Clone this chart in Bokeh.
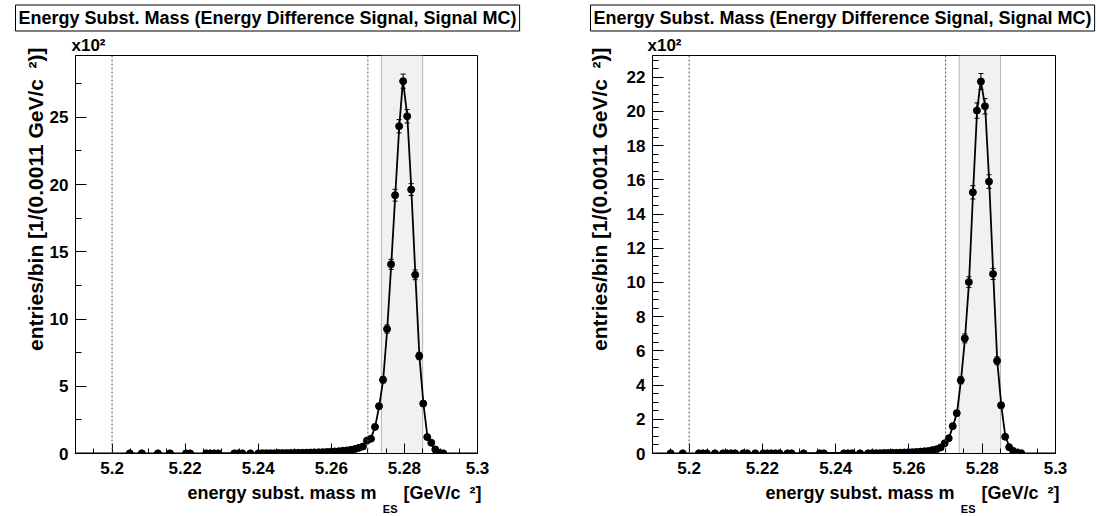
import numpy as np
from bokeh.plotting import figure
from bokeh.layouts import row
from bokeh.models import FixedTicker, BoxAnnotation, Span, Title
from bokeh.embed import file_html
from bokeh.resources import INLINE

FONT = "Liberation Sans"

# ---------------- texts ----------------
title_text = "Energy Subst. Mass (Energy Difference Signal, Signal MC)"
x_title_text = "energy subst. mass m\u2002\u2002\u2002[GeV/c\u2002²]"
x_title_sub = "ES"
y_title_text = "entries/bin [1/(0.0011 GeV/c\u2002²)]"
scale_text = "x10²"

# ---------------- axes ----------------
x_limits = (5.19, 5.30)
x_ticks = [5.2, 5.22, 5.24, 5.26, 5.28, 5.3]
x_tick_labels = ["5.2", "5.22", "5.24", "5.26", "5.28", "5.3"]
region_lines = [5.20, 5.27]
signal_band = [5.2737, 5.2850]

# ---------------- left panel ----------------
left_mass = [5.20485, 5.20815, 5.21255, 5.21585, 5.22025, 5.22135, 5.22575, 5.22685,
             5.22795, 5.22905, 5.23345, 5.23455, 5.23565, 5.23785, 5.24005, 5.24115,
             5.24225, 5.24335, 5.24445, 5.24555, 5.24665, 5.24775, 5.24885, 5.24995,
             5.25105, 5.25215, 5.25325, 5.25435, 5.25545, 5.25655, 5.25765, 5.25875,
             5.25985, 5.26095, 5.26205, 5.26315, 5.26425, 5.26535, 5.26645, 5.26755,
             5.26865, 5.26975, 5.27085, 5.27195, 5.27305, 5.27415, 5.27525, 5.27635,
             5.27745, 5.27855, 5.27965, 5.28075, 5.28185, 5.28295, 5.28405, 5.28515,
             5.28625, 5.28735, 5.28845, 5.28955, 5.29065]
left_entries = [1, 1, 1, 1, 1, 1, 1, 1,
                1, 1, 1, 1, 1, 1, 1, 2,
                2, 2, 2, 3, 3, 3, 4, 4,
                5, 5, 6, 7, 8, 9, 10, 11,
                13, 15, 17, 20, 23, 27, 33, 42,
                52, 96, 110, 198, 352, 548, 926, 1407,
                1921, 2434, 2769, 2508, 1963, 1329, 725, 371,
                122, 80, 30, 5, 1]
left_fit_mass = [5.190, 5.200, 5.210, 5.220, 5.230, 5.240, 5.245, 5.250, 5.255, 5.260,
                 5.263, 5.266, 5.2680, 5.2697, 5.2709, 5.2720, 5.2731, 5.2742, 5.2753,
                 5.2764, 5.2775, 5.2786, 5.2796, 5.2808, 5.2819, 5.2830, 5.2841, 5.2852,
                 5.2863, 5.2874, 5.2885, 5.2896, 5.2910, 5.2950, 5.3000]
left_fit_entries = [0, 0.5, 1, 1.5, 2, 3, 4, 6, 9, 14,
                    19, 27, 40, 85, 118, 200, 352, 550, 926,
                    1407, 1921, 2434, 2775, 2508, 1963, 1329, 725, 371,
                    125, 70, 25, 5, 0, 0, 0]
left_y_max = 2960
left_y_ticks = [0, 500, 1000, 1500, 2000, 2500]
left_y_tick_labels = ["0", "5", "10", "15", "20", "25"]
left_y_minor_step = 250

# ---------------- right panel ----------------
right_mass = [5.19495, 5.19825, 5.20265, 5.20375, 5.20485, 5.20705, 5.20925, 5.21035,
              5.21145, 5.21255, 5.21475, 5.21585, 5.21805, 5.22025, 5.22135, 5.22245,
              5.22355, 5.22465, 5.22685, 5.22795, 5.23125, 5.23565, 5.23675, 5.24225,
              5.24335, 5.24445, 5.24665, 5.24885, 5.24995, 5.25105, 5.25215, 5.25325,
              5.25435, 5.25545, 5.25655, 5.25765, 5.25875, 5.25985, 5.26095, 5.26205,
              5.26315, 5.26425, 5.26535, 5.26645, 5.26755, 5.26865, 5.26975, 5.27085,
              5.27195, 5.27305, 5.27415, 5.27525, 5.27635, 5.27745, 5.27855, 5.27965,
              5.28075, 5.28185, 5.28295, 5.28405, 5.28515, 5.28625, 5.28735, 5.28845,
              5.28955, 5.29065]
right_entries = [1, 1, 1, 1, 1, 1, 1, 1,
                 1, 1, 1, 1, 1, 1, 1, 1,
                 1, 1, 1, 1, 1, 1, 1, 1,
                 1, 1, 1, 1, 2, 2, 2, 3,
                 3, 4, 4, 5, 6, 7, 8, 9,
                 11, 13, 15, 20, 25, 35, 60, 89,
                 160, 236, 428, 673, 1002, 1527, 2005, 2175,
                 2030, 1590, 1050, 542, 282, 98, 37, 15,
                 5, 2]
right_fit_mass = left_fit_mass
right_fit_entries = [0, 0.5, 1, 1.5, 2, 3, 3.5, 5, 7, 10,
                     14, 20, 28, 58, 90, 160, 236, 428, 673,
                     1002, 1527, 2005, 2180, 2030, 1590, 1050, 542, 282,
                     100, 40, 15, 5, 0, 0, 0]
right_y_max = 2327
right_y_ticks = [0, 200, 400, 600, 800, 1000, 1200, 1400, 1600, 1800, 2000, 2200]
right_y_tick_labels = ["0", "2", "4", "6", "8", "10", "12", "14", "16", "18", "20", "22"]
right_y_minor_step = 50


def styled_title(t, text, size, align, offset, standoff, **kw):
    t.text = text
    t.text_font = FONT
    t.text_font_style = "bold"
    t.text_font_size = f"{size}px"
    t.text_color = "black"
    t.align = align
    t.offset = offset
    t.standoff = standoff
    for k, v in kw.items():
        setattr(t, k, v)
    return t


def make_panel(mass, entries, fit_mass, fit_entries, y_max, y_ticks, y_labels, y_minor,
               width, b_left, b_right, title_offset, ytitle_valign, ytitle_standoff, scale_offset):
    p = figure(width=width, height=516, x_range=x_limits, y_range=(0, y_max),
               output_backend="svg", toolbar_location=None, title=title_text,
               min_border_left=b_left, min_border_right=b_right,
               min_border_top=51, min_border_bottom=63,
               background_fill_color="white", border_fill_color="white")
    p.grid.visible = False
    p.outline_line_color = "black"
    p.outline_line_width = 1

    # signal band and region lines
    p.add_layout(BoxAnnotation(left=signal_band[0], right=signal_band[1],
                               fill_color="#f1f1f1", fill_alpha=1.0,
                               line_color="#222222", line_width=1, level="underlay"))
    for loc in region_lines:
        p.add_layout(Span(location=loc, dimension="height", line_color="#555555",
                          line_width=1, line_dash="2 2"))

    # fit curve
    p.line(fit_mass, fit_entries, line_color="black", line_width=1.8)

    # data points with Poisson error bars
    m = np.array(mass, dtype=float)
    n = np.array(entries, dtype=float)
    err = np.sqrt(n)
    p.segment(x0=m, y0=n - err, x1=m, y1=n + err, line_color="black", line_width=1)
    big = n > 150
    p.scatter(m[big], (n + err)[big], marker="dash", size=5, line_color="black", line_width=1)
    p.scatter(m[big], (n - err)[big], marker="dash", size=5, line_color="black", line_width=1)
    p.scatter(m, n, marker="circle", size=7, fill_color="black", line_color="black")

    # x axis
    xa = p.xaxis[0]
    xa.ticker = FixedTicker(ticks=x_ticks, minor_ticks=list(np.round(np.arange(5.19, 5.3001, 0.005), 4)))
    xa.major_label_overrides = {t: l for t, l in zip(x_ticks, x_tick_labels)}
    # y axis
    ya = p.yaxis[0]
    ya.ticker = FixedTicker(ticks=y_ticks, minor_ticks=list(np.arange(0, y_max, y_minor)))
    ya.major_label_overrides = {t: l for t, l in zip(y_ticks, y_labels)}
    for ax in (xa, ya):
        ax.axis_line_color = "black"
        ax.major_tick_line_color = "black"
        ax.minor_tick_line_color = "black"
        ax.major_tick_out = 0
        ax.minor_tick_out = 0
        ax.major_label_text_font = FONT
        ax.major_label_text_font_style = "bold"
        ax.major_label_text_font_size = "17px"
        ax.major_label_text_color = "black"
    xa.major_tick_in = 10
    xa.minor_tick_in = 5
    ya.major_tick_in = 11
    ya.minor_tick_in = 6
    xa.major_label_standoff = 8
    ya.major_label_standoff = 7

    # boxed title (outermost) and x10^2 next to the frame
    styled_title(p.title, title_text, 18, "left", title_offset, 5,
                 border_line_color="black", border_line_width=1,
                 background_fill_color="white", padding=3)
    p.add_layout(styled_title(Title(), scale_text, 17, "left", scale_offset, 1), "above")
    # x axis title (+ subscript ES in the line below)
    p.add_layout(styled_title(Title(), x_title_text, 18, "right", -4, 9), "below")
    p.add_layout(styled_title(Title(), x_title_sub, 11, "right", 80, -14), "below")
    # y axis title
    p.add_layout(styled_title(Title(), y_title_text, 21, "right", -8, ytitle_standoff,
                              vertical_align=ytitle_valign), "left")
    return p


p_left = make_panel(left_mass, left_entries, left_fit_mass, left_fit_entries, left_y_max,
                    left_y_ticks, left_y_tick_labels, left_y_minor_step,
                    549, 75, 72, -60, "bottom", 0, -4)
p_right = make_panel(right_mass, right_entries, right_fit_mass, right_fit_entries, right_y_max,
                     right_y_ticks, right_y_tick_labels, right_y_minor_step,
                     550, 103, 44, -62, "top", 21, -5)

layout = row(p_left, p_right)
open("out.html", "w").write(file_html(layout, INLINE))
